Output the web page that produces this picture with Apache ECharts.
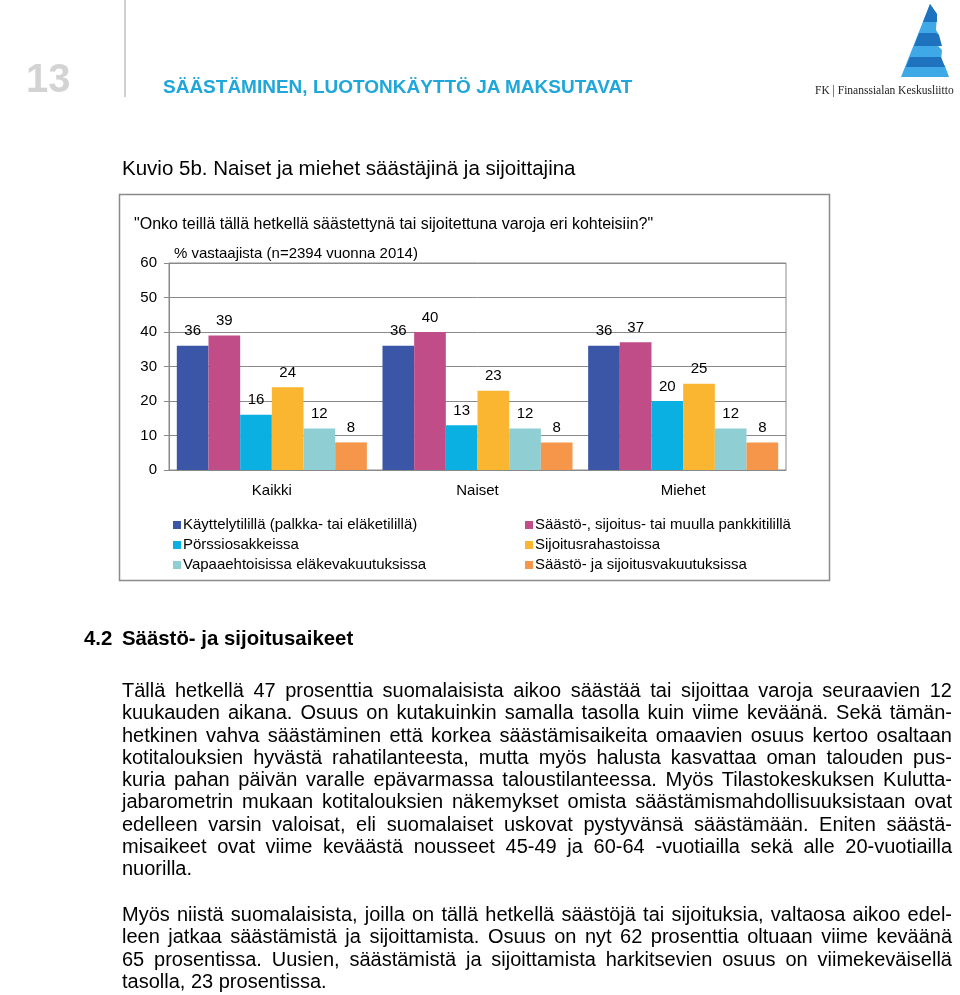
<!DOCTYPE html>
<html>
<head>
<meta charset="utf-8">
<script src="https://cdn.jsdelivr.net/npm/echarts@6/dist/echarts.min.js"></script>
<style>
  html, body { margin:0; padding:0; background:#fff; }
  body { width:960px; height:995px; position:relative; overflow:hidden; font-family:"Liberation Sans", Arial, sans-serif; }
  #chart { position:absolute; left:0; top:0; width:960px; height:995px; }
  .abs { position:absolute; white-space:nowrap; }
  .para { position:absolute; left:122px; width:830px; font-size:20px; line-height:22.3px; color:#000; }
  .para div { text-align:justify; text-align-last:justify; white-space:nowrap; }
  .para div.last { text-align-last:left; }
</style>
</head>
<body>
<div id="chart"></div>

<div class="abs" style="left:26px;top:55px;font-size:40px;font-weight:bold;color:#d3d3d3;line-height:46px;">13</div>
<div class="abs" style="left:124px;top:0;width:2px;height:97px;background:#d0d0d0;"></div>
<div class="abs" style="left:163px;top:76px;font-size:19px;font-weight:bold;color:#1fa6da;line-height:22px;">SÄÄSTÄMINEN, LUOTONKÄYTTÖ JA MAKSUTAVAT</div>
<div class="abs" style="left:815px;top:83px;font-size:11.5px;color:#222;font-family:'Liberation Serif',serif;line-height:14px;">FK | Finanssialan Keskusliitto</div>
<div class="abs" style="left:122px;top:157px;font-size:20.5px;color:#000;line-height:22px;">Kuvio 5b. Naiset ja miehet säästäjinä ja sijoittajina</div>

<div class="abs" style="left:84px;top:627px;font-size:20.4px;font-weight:bold;color:#000;line-height:22px;">4.2</div>
<div class="abs" style="left:122px;top:627px;font-size:20.4px;font-weight:bold;color:#000;line-height:22px;">Säästö- ja sijoitusaikeet</div>

<div class="para" style="top:679px;">
  <div>Tällä hetkellä 47 prosenttia suomalaisista aikoo säästää tai sijoittaa varoja seuraavien 12</div>
  <div>kuukauden aikana. Osuus on kutakuinkin samalla tasolla kuin viime keväänä. Sekä tämän-</div>
  <div>hetkinen vahva säästäminen että korkea säästämisaikeita omaavien osuus kertoo osaltaan</div>
  <div>kotitalouksien hyvästä rahatilanteesta, mutta myös halusta kasvattaa oman talouden pus-</div>
  <div>kuria pahan päivän varalle epävarmassa taloustilanteessa. Myös Tilastokeskuksen Kulutta-</div>
  <div>jabarometrin mukaan kotitalouksien näkemykset omista säästämismahdollisuuksistaan ovat</div>
  <div>edelleen varsin valoisat, eli suomalaiset uskovat pystyvänsä säästämään. Eniten säästä-</div>
  <div>misaikeet ovat viime keväästä nousseet 45-49 ja 60-64 -vuotiailla sekä alle 20-vuotiailla</div>
  <div class="last">nuorilla.</div>
</div>
<div class="para" style="top:903px;">
  <div>Myös niistä suomalaisista, joilla on tällä hetkellä säästöjä tai sijoituksia, valtaosa aikoo edel-</div>
  <div>leen jatkaa säästämistä ja sijoittamista. Osuus on nyt 62 prosenttia oltuaan viime keväänä</div>
  <div>65 prosentissa. Uusien, säästämistä ja sijoittamista harkitsevien osuus on viimekeväisellä</div>
  <div class="last">tasolla, 23 prosentissa.</div>
</div>

<script>
// ---- data ----
const categories = ['Kaikki', 'Naiset', 'Miehet'];
const seriesNames = [
  'Käyttelytilillä (palkka- tai eläketilillä)',
  'Säästö-, sijoitus- tai muulla pankkitilillä',
  'Pörssiosakkeissa',
  'Sijoitusrahastoissa',
  'Vapaaehtoisissa eläkevakuutuksissa',
  'Säästö- ja sijoitusvakuutuksissa'
];
const kayttelytili = [36, 36, 36];
const pankkitili = [39, 40, 37];
const porssiosakkeet = [16, 13, 20];
const rahastot = [24, 23, 25];
const elakevakuutukset = [12, 12, 12];
const sijoitusvakuutukset = [8, 8, 8];
const yTicks = [0, 10, 20, 30, 40, 50, 60];
const chartTitle = '"Onko teillä tällä hetkellä säästettynä tai sijoitettuna varoja eri kohteisiin?"';
const yAxisTitle = '% vastaajista (n=2394 vuonna 2014)';

const seriesValues = [kayttelytili, pankkitili, porssiosakkeet, rahastot, elakevakuutukset, sijoitusvakuutukset];
const colors = ['#3b56a6', '#c14d88', '#0bb0e2', '#fbb631', '#8fced3', '#f5964a'];

const chart = echarts.init(document.getElementById('chart'), null, { renderer: 'canvas' });
const font = '"Liberation Sans", Arial, sans-serif';

const legendText = { color: '#000', fontSize: 15, lineHeight: 16, fontFamily: font, padding: [0, 0, 0, -3] };

const option = {
  animation: false,
  color: colors,
  textStyle: { fontFamily: font },
  grid: { left: 169, top: 263, width: 617, height: 207, show: true, borderColor: '#8a8a8a', borderWidth: 1, backgroundColor: 'transparent' },
  xAxis: {
    type: 'category',
    data: categories,
    axisLine: { lineStyle: { color: '#8a8a8a', width: 1 } },
    axisTick: { show: false },
    axisLabel: { color: '#000', fontSize: 15, margin: 13, fontFamily: font }
  },
  yAxis: {
    type: 'value',
    min: yTicks[0], max: yTicks[yTicks.length - 1], interval: 10,
    axisLine: { show: true, lineStyle: { color: '#8a8a8a', width: 1 } },
    axisTick: { show: true, length: 5, lineStyle: { color: '#8a8a8a' } },
    axisLabel: { color: '#000', fontSize: 15, margin: 12, fontFamily: font },
    splitLine: { lineStyle: { color: '#8a8a8a', width: 1 } }
  },
  legend: [
    {
      data: [seriesNames[0], seriesNames[2], seriesNames[4]],
      orient: 'vertical', left: 168, top: 512, itemWidth: 8, itemHeight: 8, itemGap: 4,
      icon: 'rect', textStyle: legendText
    },
    {
      data: [seriesNames[1], seriesNames[3], seriesNames[5]],
      orient: 'vertical', left: 520, top: 512, itemWidth: 8, itemHeight: 8, itemGap: 4,
      icon: 'rect', textStyle: legendText
    }
  ],
  series: seriesNames.map((name, i) => ({
    name: name,
    type: 'bar',
    data: seriesValues[i],
    barGap: '0%',
    barCategoryGap: '7.6%',
    itemStyle: { color: colors[i] },
    label: { show: true, position: 'top', distance: 7, color: '#000', fontSize: 15, fontFamily: font }
  })),
  graphic: [
    { type: 'rect', shape: { x: 119.5, y: 194.5, width: 710, height: 386 }, style: { fill: 'none', stroke: '#8a8a8a', lineWidth: 1.5 }, z: -1 },
    { type: 'text', x: 134, y: 225, style: { text: chartTitle, fill: '#000', font: '16px ' + font, verticalAlign: 'middle', textVerticalAlign: 'middle' } },
    { type: 'text', x: 174, y: 254, style: { text: yAxisTitle, fill: '#000', font: '15px ' + font, verticalAlign: 'middle', textVerticalAlign: 'middle' } },
    // logo
    { type: 'polygon', shape: { points: [[930, 4], [901, 77], [949, 77], [945, 66], [941, 61], [942, 50], [938, 46], [939, 35], [936, 30], [937, 14]] }, style: { fill: '#3fa9e8' } },
    { type: 'polygon', shape: { points: [[930, 4], [923, 22], [937, 22], [937, 14]] }, style: { fill: '#1f72bd' } },
    { type: 'polygon', shape: { points: [[919, 33], [914, 46], [942, 46], [939, 35], [936, 33]] }, style: { fill: '#1f72bd' } },
    { type: 'polygon', shape: { points: [[910, 57], [906, 67], [945, 67], [941, 57]] }, style: { fill: '#1f72bd' } }
  ]
};
chart.setOption(option);
</script>
</body>
</html>
